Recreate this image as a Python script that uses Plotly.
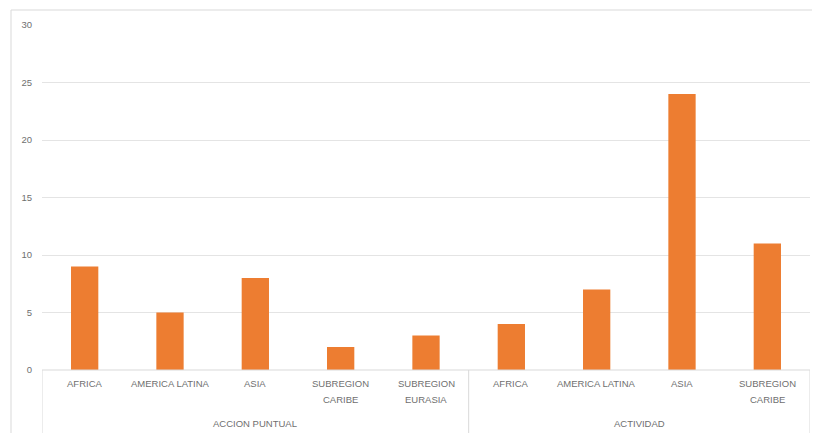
import plotly.graph_objects as go

groups = ["ACCION PUNTUAL"] * 5 + ["ACTIVIDAD"] * 4
regions = ["AFRICA", "AMERICA LATINA", "ASIA", "SUBREGION\nCARIBE", "SUBREGION\nEURASIA",
           "AFRICA", "AMERICA LATINA", "ASIA", "SUBREGION\nCARIBE"]
values = [9, 5, 8, 2, 3, 4, 7, 24, 11]
y_ticks = [0, 5, 10, 15, 20, 25, 30]

# page is offset by 8px body margin
OFF = 8
W, H = 820 - OFF, 433 - OFF
L, R, T, B = 42 - OFF, 10, 25 - OFF, 63
PH = H - T - B  # plot height in px

xs = list(range(len(values)))

fig = go.Figure(go.Bar(
    x=xs, y=values,
    marker=dict(color="#ED7D31", line=dict(width=0)),
    width=0.32,
))

def py(page_px):
    # page pixel (y) -> paper coordinate
    return (370 - page_px) / PH

def pxp(page_px):
    return (page_px - 42) / (W - L - R)

TXT = "#6f6f6f"
annotations = []
for i, lab in enumerate(regions):
    for k, line in enumerate(lab.split("\n")):
        annotations.append(dict(
            x=xs[i], y=py(383 + 16 * k), xref="x", yref="paper",
            text=line, showarrow=False, xanchor="center", yanchor="middle",
            font=dict(size=9.5, color=TXT),
        ))

# group labels and dividers
shapes = []
start = 0
bounds = [-0.5]
for i in range(1, len(groups) + 1):
    if i == len(groups) or groups[i] != groups[start]:
        annotations.append(dict(
            x=(xs[start] + xs[i - 1]) / 2, y=py(423), xref="x", yref="paper",
            text=groups[start], showarrow=False, xanchor="center", yanchor="middle",
            font=dict(size=9.5, color=TXT),
        ))
        bounds.append(i - 0.5)
        start = i
for b in bounds:
    shapes.append(dict(type="line", xref="x", yref="paper", x0=b, x1=b,
                       y0=0, y1=py(433), line=dict(color="#d9d9d9", width=1)))

shapes.append(dict(type="line", xref="paper", yref="paper", x0=0, x1=1,
                   y0=0, y1=0, line=dict(color="#d9d9d9", width=1)))
shapes.append(dict(type="rect", xref="paper", yref="paper",
                   x0=pxp(11), x1=pxp(822), y0=py(440), y1=py(10),
                   line=dict(color="#d9d9d9", width=1), fillcolor="rgba(0,0,0,0)", layer="below"))

fig.update_layout(
    width=W, height=H,
    margin=dict(l=L, r=R, t=T, b=B),
    paper_bgcolor="white", plot_bgcolor="white",
    showlegend=False,
    font=dict(family="Liberation Sans", size=9.5, color=TXT),
    xaxis=dict(
        range=[-0.5, len(values) - 0.5],
        showticklabels=False, showgrid=False, zeroline=False, showline=False,
        ticks="",
    ),
    yaxis=dict(
        range=[0, 30], tickvals=y_ticks,
        showgrid=True, gridcolor="#e4e4e4", gridwidth=1,
        zeroline=False, showline=False,
        tickfont=dict(size=9.5, color=TXT),
        ticks="", ticklabelstandoff=9,
    ),
    shapes=shapes,
    annotations=annotations,
)

fig.write_html("out.html")
